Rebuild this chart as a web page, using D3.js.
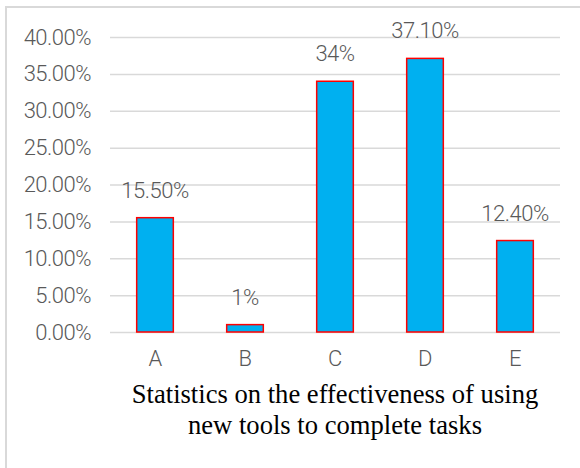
<!DOCTYPE html>
<html>
<head>
<meta charset="utf-8">
<script src="https://cdn.jsdelivr.net/npm/d3@7"></script>
<style>
  html, body { margin: 0; padding: 0; background: #fff; }
  svg { display: block; }
</style>
</head>
<body>
<svg id="chart" width="580" height="468"></svg>
<script>
// Survey results: share of respondents per effectiveness rating
const categories = ["A", "B", "C", "D", "E"];
const values = [0.155, 0.01, 0.34, 0.371, 0.124];
const valueLabels = ["15.50%", "1%", "34%", "37.10%", "12.40%"];
const yTicks = [0, 0.05, 0.10, 0.15, 0.20, 0.25, 0.30, 0.35, 0.40];
const titleLines = ["Statistics on the effectiveness of using", "new tools to complete tasks"];

const W = 580, H = 468;
const plot = { left: 110, right: 560, top: 37, bottom: 332 };
const labelFont = "Roboto, 'Noto Sans', sans-serif";

const svg = d3.select("#chart");

function styleLabel(sel) {
  sel.attr("fill", "#595959")
    .style("font-family", labelFont)
    .style("font-weight", 300)
    .style("font-size", "22px")
    .style("letter-spacing", "-0.5px");
}

// outer chart frame
svg.append("rect")
  .attr("x", 6).attr("y", 7)
  .attr("width", W + 10).attr("height", H + 10)
  .attr("fill", "#fff")
  .attr("stroke", "#d9d9d9").attr("stroke-width", 2);

const x = d3.scaleBand()
  .domain(categories)
  .range([plot.left, plot.right])
  .paddingInner(0.593).paddingOuter(0.2965);

const y = d3.scaleLinear()
  .domain([0, 0.4])
  .range([plot.bottom, plot.top]);

// horizontal gridlines with percentage labels
const yAxis = d3.axisLeft(y)
  .tickValues(yTicks)
  .tickFormat(d3.format(".2%"))
  .tickSize(-(plot.right - plot.left))
  .tickPadding(19);

const gy = svg.append("g")
  .attr("transform", `translate(${plot.left},0)`)
  .call(yAxis);
gy.select(".domain").remove();
gy.selectAll(".tick line")
  .attr("stroke", "#d9d9d9").attr("stroke-width", 1.5);
gy.selectAll(".tick text").call(styleLabel);

// category axis
const xAxis = d3.axisBottom(x).tickSize(0).tickPadding(18);
const gx = svg.append("g")
  .attr("transform", `translate(0,${plot.bottom})`)
  .call(xAxis);
gx.select(".domain").remove();
gx.selectAll(".tick text").call(styleLabel);

// bars
svg.append("g").selectAll("rect")
  .data(values)
  .join("rect")
  .attr("x", (d, i) => x(categories[i]))
  .attr("y", d => y(d))
  .attr("width", x.bandwidth())
  .attr("height", d => y(0) - y(d))
  .attr("fill", "#00b0f0")
  .attr("stroke", "#ff0000")
  .attr("stroke-width", 1.5);

// value labels above bars
svg.append("g").selectAll("text")
  .data(values)
  .join("text")
  .attr("x", (d, i) => x(categories[i]) + x.bandwidth() / 2)
  .attr("y", d => y(d) - 20)
  .attr("text-anchor", "middle")
  .call(styleLabel)
  .text((d, i) => valueLabels[i]);

// chart title below the axis
svg.append("text")
  .attr("x", 335)
  .attr("y", 403)
  .attr("text-anchor", "middle")
  .attr("fill", "#000")
  .style("font-family", "'Liberation Serif', 'Times New Roman', serif")
  .style("font-size", "26.6px")
  .selectAll("tspan")
  .data(titleLines)
  .join("tspan")
  .attr("x", 335)
  .attr("dy", (d, i) => i === 0 ? 0 : 31)
  .text(d => d);
</script>
</body>
</html>
